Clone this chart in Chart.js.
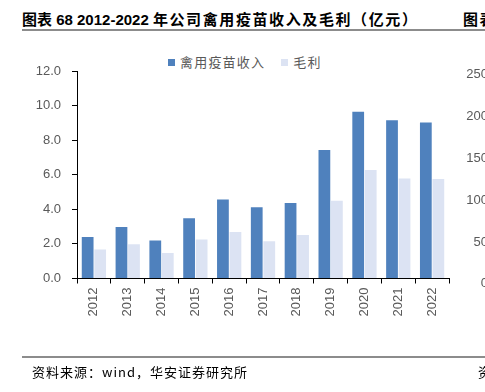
<!DOCTYPE html>
<html>
<head>
<meta charset="utf-8">
<script src="https://cdn.jsdelivr.net/npm/chart.js@4"></script>
<style>
  html, body { margin: 0; padding: 0; background: #fff; }
  body { width: 485px; height: 392px; position: relative; overflow: hidden; font-family: "Liberation Sans", "Noto Sans CJK SC", sans-serif; }
  #wrap { position: absolute; left: 0; top: 0; width: 485px; height: 392px; }
  .title { position: absolute; top: 8px; font-weight: bold; font-size: 15px; color: #000; white-space: nowrap; font-family: "Liberation Sans", "Noto Sans CJK SC", sans-serif; }
  .title .cjk { font-family: "Noto Sans CJK SC", sans-serif; letter-spacing: 1.6px; }
  .rule { position: absolute; left: 22px; right: 0; height: 2px; background: #8c8c8c; }
  .src { position: absolute; top: 362px; font-size: 13px; color: #000; white-space: nowrap; font-family: "Noto Sans CJK SC", sans-serif; letter-spacing: 1px; }
  .legend { position: absolute; top: 52px; left: 168px; font-size: 13px; color: #595959; font-family: "Noto Sans CJK SC", sans-serif; white-space: nowrap; letter-spacing: 1.2px; }
  .legend span.box { display: inline-block; width: 7px; height: 7px; margin-right: 5px; vertical-align: 1px; }
  .legend span.item { margin-right: 12px; }
  .nb { position: absolute; left: 440px; width: 48px; text-align: right; font-size: 13px; color: #595959; }
</style>
</head>
<body>
<div class="title" style="left:22px">图表 68 2012-2022 <span class="cjk">年公司禽用疫苗收入及毛利（亿元）</span></div>
<div class="title" style="left:463px"><span class="cjk">图表</span></div>
<div class="rule" style="top:29px"></div>
<div class="legend">
  <span class="item"><span class="box" style="background:#4f81bd"></span>禽用疫苗收入</span>
  <span class="item"><span class="box" style="background:#dce3f3"></span>毛利</span>
</div>
<div id="wrap"><canvas id="chart" width="485" height="392"></canvas></div>
<div id="nbAxis"></div>
<div class="rule" style="top:356px"></div>
<div class="src" style="left:32px">资料来源：wind，华安证券研究所</div>
<div class="src" style="left:478px">资</div>
<script>
const years = ['2012', '2013', '2014', '2015', '2016', '2017', '2018', '2019', '2020', '2021', '2022'];
const revenue = [2.40, 2.98, 2.20, 3.48, 4.57, 4.12, 4.37, 7.43, 9.65, 9.15, 9.02];
const grossProfit = [1.68, 1.98, 1.48, 2.25, 2.69, 2.16, 2.52, 4.49, 6.28, 5.78, 5.76];
const yTicks = [0, 2, 4, 6, 8, 10, 12];
// cut-off axis of the neighbouring chart on the right
const nbLabels = ['250', '200', '150', '100', '50', '0'];
const nbTop = [66, 108, 150, 192, 234, 275];

const nb = document.getElementById('nbAxis');
nbLabels.forEach((t, i) => {
    const d = document.createElement('div');
    d.className = 'nb';
    d.style.top = nbTop[i] + 'px';
    d.textContent = t;
    nb.appendChild(d);
});

const textColor = '#595959';
const ctx = document.getElementById('chart').getContext('2d');
new Chart(ctx, {
    type: 'bar',
    data: {
        labels: years,
        datasets: [{
            label: '禽用疫苗收入',
            data: revenue,
            backgroundColor: '#4f81bd',
            borderWidth: 0
        }, {
            label: '毛利',
            data: grossProfit,
            backgroundColor: '#dce3f3',
            borderWidth: 0
        }]
    },
    options: {
        responsive: false,
        animation: false,
        categoryPercentage: 0.74,
        barPercentage: 0.94,
        layout: {
            padding: { left: 0, right: 36, top: 71, bottom: 0 }
        },
        plugins: {
            legend: { display: false },
            tooltip: { enabled: false }
        },
        scales: {
            x: {
                grid: {
                    drawOnChartArea: false,
                    drawTicks: true,
                    tickLength: 5,
                    color: '#000'
                },
                border: { display: true, color: '#000', width: 1 },
                ticks: {
                    color: textColor,
                    font: { family: 'Liberation Sans', size: 13 },
                    minRotation: 90,
                    maxRotation: 90,
                    padding: 4
                },
                afterFit: function(scale) {
                    scale.height = 113.5;
                }
            },
            y: {
                min: 0,
                max: 12,
                grid: {
                    drawOnChartArea: false,
                    drawTicks: true,
                    tickLength: 5,
                    color: '#000'
                },
                border: { display: true, color: '#000', width: 1 },
                afterBuildTicks: function(scale) {
                    scale.ticks = yTicks.map(v => ({ value: v }));
                },
                ticks: {
                    color: textColor,
                    font: { family: 'Liberation Sans', size: 13 },
                    padding: 11,
                    callback: function(value) {
                        return Number(value).toFixed(1);
                    }
                },
                afterFit: function(scale) {
                    scale.width = 77;
                }
            }
        }
    }
});
</script>
</body>
</html>
